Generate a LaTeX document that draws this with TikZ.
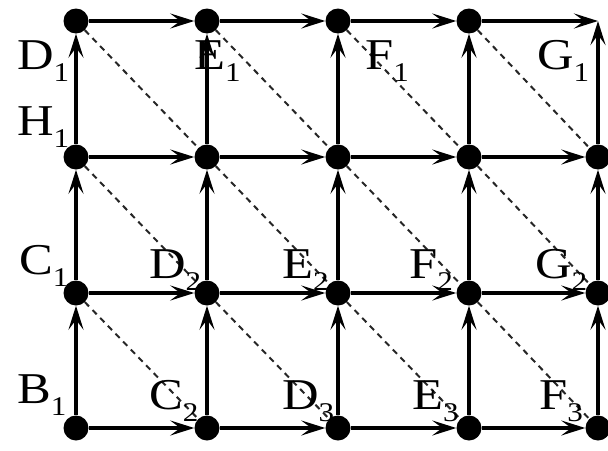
\documentclass[tikz,border=0pt]{standalone}
\usepackage{graphicx}
\usepackage{fontspec}
\setmainfont{Liberation Serif}
\usetikzlibrary{arrows.meta}
\newcommand{\lab}[2]{\scalebox{1.15}[1]{\fontsize{44}{44}\selectfont #1\raisebox{-12pt}{\fontsize{27}{27}\selectfont #2}}}
\begin{document}
\begin{tikzpicture}[x=1pt,y=-1pt,
 dot/.style={circle,fill=black,inner sep=0pt,minimum size=25pt},
 edge/.style={line width=3.3pt,-{Stealth[length=24pt,width=15pt,inset=10pt]}},
 diag/.style={line width=2pt,black!85,dash pattern=on 6pt off 5pt},
 lbl/.style={anchor=base west,inner sep=0pt}]
\useasboundingbox (0,0) rectangle (608,450);
\clip (0,0) rectangle (608,450);
% dots
\foreach \i/\x in {0/76,1/207,2/338,3/469,4/598}
  \foreach \j/\y in {1/157,2/293,3/428}
    \node[dot] (n-\i-\j) at (\x,\y) {};
\foreach \i/\x in {0/76,1/207,2/338,3/469}
  \node[dot] (n-\i-0) at (\x,21) {};
\coordinate (n-4-0) at (598,21);
% dashed diagonals
\foreach \i in {0,...,3}
  \foreach \j in {0,1,2}{
    \pgfmathtruncatemacro{\k}{\i+1}
    \pgfmathtruncatemacro{\l}{\j+1}
    \draw[diag] (n-\i-\j) -- (n-\k-\l);
  }
% horizontal arrows
\foreach \j in {0,...,3}
  \foreach \i in {0,...,3}{
    \pgfmathtruncatemacro{\k}{\i+1}
    \draw[edge] (n-\i-\j) -- (n-\k-\j);
  }
% vertical arrows
\foreach \i in {0,...,4}
  \foreach \j in {0,1,2}{
    \pgfmathtruncatemacro{\l}{\j+1}
    \draw[edge] (n-\i-\l) -- (n-\i-\j);
  }
% labels
\node[lbl] (lD1) at (17,69) {\lab{D}{1}};
\node[lbl] (lH1) at (17,135) {\lab{H}{1}};
\node[lbl] (lC1) at (19,274) {\lab{C}{1}};
\node[lbl] (lB1) at (17,403) {\lab{B}{1}};
\node[lbl] (lE1) at (194,69) {\lab{E}{1}};
\node[lbl] (lF1) at (365,69) {\lab{F}{1}};
\node[lbl] (lG1) at (537,69) {\lab{G}{1}};
\node[lbl] (lD2) at (149,278) {\lab{D}{2}};
\node[lbl] (lE2) at (282,278) {\lab{E}{2}};
\node[lbl] (lF2) at (409,278) {\lab{F}{2}};
\node[lbl] (lG2) at (535,278) {\lab{G}{2}};
\node[lbl] (lC2) at (149,409) {\lab{C}{2}};
\node[lbl] (lD3) at (282,409) {\lab{D}{3}};
\node[lbl] (lE3) at (412,409) {\lab{E}{3}};
\node[lbl] (lF3) at (539,409) {\lab{F}{3}};
\end{tikzpicture}
\end{document}
